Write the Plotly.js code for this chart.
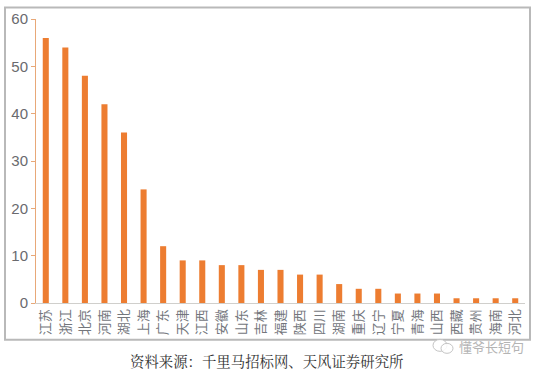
<!DOCTYPE html>
<html><head><meta charset="utf-8">
<script src="https://cdn.plot.ly/plotly-3.0.1.min.js"></script>
<style>html,body{margin:0;padding:0;background:#fff}</style></head>
<body><div id="chart" style="width:539px;height:371px"></div>
<script>
const provinces = ["江苏","浙江","北京","河南","湖北","上海","广东","天津","江西","安徽","山东","吉林","福建","陕西","四川","湖南","重庆","辽宁","宁夏","青海","山西","西藏","贵州","海南","河北"];
const counts = [56,54,48,42,36,24,12,9,9,8,8,7,7,6,6,4,3,3,2,2,2,1,1,1,1];
const yTicks = [0,10,20,30,40,50,60];
const sourceText = "资料来源\uff1a千里马招标网、天风证券研究所";
const watermark = "懂爷长短句";
const W = 539, H = 371;
const cjk = '"Noto Sans CJK SC", sans-serif';
const px = v => (v-36)/489, py = v => (303.5-v)/285;
const ell = (cx,cy,rx,ry) => ({type:"circle", xref:"paper", yref:"paper", x0:px(cx-rx), x1:px(cx+rx), y0:py(cy+ry), y1:py(cy-ry), line:{color:"#c4c4c4", width:1}, fillcolor:"rgba(255,255,255,0.85)"});
Plotly.newPlot("chart", [{
  type: "bar", x: provinces, y: counts,
  marker: {color: "#ED7D31", line: {width: 0}},
  width: 0.31
}], {
  width: W, height: H,
  margin: {l: 36, r: 14, t: 18.5, b: 67.5},
  paper_bgcolor: "#fff", plot_bgcolor: "#fff",
  showlegend: false, bargap: 0.69,
  xaxis: {type: "category", tickangle: -90, ticks: "", showgrid: false, zeroline: false,
    showline: true, linecolor: "#D0CFCC", linewidth: 1,
    tickfont: {family: cjk, size: 13, color: "#73767c"}, automargin: false},
  yaxis: {range: [0,60], tickvals: yTicks, ticks: "outside", ticklen: 4, tickcolor: "#E8A878",
    showgrid: false, zeroline: false, showline: true, linecolor: "#E8A878", linewidth: 1,
    tickfont: {family: '"Liberation Sans", Arial, sans-serif', size: 15, color: "#6a6a6e"}, automargin: false},
  shapes: [
    {type:"rect", xref:"paper", yref:"paper",
     x0:px(5), x1:px(530), y0:py(340.5), y1:py(7),
     line:{color:"#B9B9B9", width:2}, fillcolor:"rgba(0,0,0,0)"},
    ell(440,346,7,6),
    ell(447,349,6,5)
  ],
  annotations: [
    {text: sourceText, xref:"paper", yref:"paper", x:px(266), y:py(361), showarrow:false,
     xanchor:"center", yanchor:"middle", font:{family:'"Noto Serif CJK SC","Noto Sans CJK SC",serif', size:14.4, color:"#333"}},
    {text: watermark, xref:"paper", yref:"paper", x:px(457), y:py(347), showarrow:false,
     xanchor:"left", yanchor:"middle", font:{family:cjk, size:13, color:"#b4b4b4"}}
  ]
}, {displayModeBar:false, staticPlot:true});
</script></body></html>
